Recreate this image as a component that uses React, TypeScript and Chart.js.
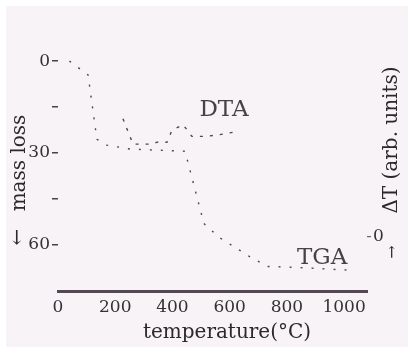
import { useEffect, useRef } from "react";
import { Chart, registerables } from "chart.js";

Chart.register(...registerables);

// ---- data ----
const tgaTemp = [40, 105, 136, 171, 252, 444, 510, 563, 633, 682, 734, 835, 1038];
const tgaMassLoss = [0, 4.5, 25.5, 27.4, 28.7, 29.4, 53.0, 57.5, 61.6, 64.5, 67.0, 67.3, 68.3];

const dtaTemp = [227, 262, 322, 357, 381, 398, 437, 468, 514, 566, 629];
const dtaDeltaT = [25.9, 20.3, 20.3, 20.9, 20.7, 23.3, 24.6, 22.0, 22.0, 22.4, 23.1];

const tempTicks = [0, 200, 400, 600, 800, 1000];
const tempTickLabels = ["0", "200", "400", "600", "800", "1000"];
const massTicks = [0, 15, 30, 45, 60];
const massTickLabels = ["0", "", "30", "", "60"];
const dtTicks = [0];
const dtTickLabels = ["0"];

const xTitle = "temperature(°C)";
const yTitle = "mass loss";
const y2Title = "ΔT (arb. units)";
const dtaLabel = "DTA";
const tgaLabel = "TGA";

const FONT = '"DejaVu Serif", "Liberation Serif", serif';

export default function App() {
  const ref = useRef<HTMLCanvasElement>(null);

  useEffect(() => {
    if (!ref.current) return;

    const bg = {
      id: "bg",
      beforeDraw(c: any) {
        const ctx = c.ctx;
        ctx.save();
        ctx.fillStyle = "#f8f3f7";
        ctx.fillRect(0, 0, c.width, c.height);
        ctx.restore();
      },
    };

    const texts = {
      id: "texts",
      afterDraw(c: any) {
        const ctx = c.ctx;
        const x = c.scales.x;
        const y = c.scales.y;
        const y2 = c.scales.y2;
        ctx.save();
        ctx.fillStyle = "#2a2a2a";
        ctx.textAlign = "center";
        ctx.textBaseline = "middle";
        ctx.font = `20px ${FONT}`;
        ctx.fillText(xTitle, 221, 327);

        const rot = (t: string, px: number, py: number) => {
          ctx.save();
          ctx.translate(px, py);
          ctx.rotate(-Math.PI / 2);
          ctx.fillText(t, 0, 0);
          ctx.restore();
        };
        rot(yTitle, 13.5, 157);
        rot("←", 12, 231);
        rot(y2Title, 386, 134);
        ctx.font = `16px ${FONT}`;
        rot("→", 387, 246);

        ctx.fillStyle = "#444";
        ctx.font = `23px ${FONT}`;
        ctx.fillText(dtaLabel, x.getPixelForValue(580), y2.getPixelForValue(27.7));
        ctx.fillText(tgaLabel, x.getPixelForValue(923), y.getPixelForValue(64.3));
        ctx.restore();
      },
    };

    const tickFont = { family: FONT, size: 17 };

    const chart = new Chart(ref.current, {
      type: "line",
      data: {
        datasets: [
          {
            label: "TGA",
            data: tgaTemp.map((t, i) => ({ x: t, y: tgaMassLoss[i] })),
            yAxisID: "y",
            borderColor: "#4a4a4a",
            borderWidth: 1.4,
            borderDash: [2, 9],
            pointRadius: 0,
            tension: 0,
            fill: false,
          },
          {
            label: "DTA",
            data: dtaTemp.map((t, i) => ({ x: t, y: dtaDeltaT[i] })),
            yAxisID: "y2",
            borderColor: "#4a4a4a",
            borderWidth: 1.4,
            borderDash: [3, 7],
            pointRadius: 0,
            tension: 0,
            fill: false,
          },
        ],
      },
      options: {
        responsive: false,
        animation: false,
        devicePixelRatio: 1,
        layout: { padding: { top: 6, left: 0, right: 0, bottom: 0 } },
        plugins: { legend: { display: false }, tooltip: { enabled: false } },
        scales: {
          x: {
            type: "linear",
            min: 0,
            max: 1080,
            afterBuildTicks: (s: any) => {
              s.ticks = tempTicks.map((v) => ({ value: v }));
            },
            ticks: {
              callback: (v: any) => {
                const i = tempTicks.indexOf(Number(v));
                return i >= 0 ? tempTickLabels[i] : "";
              },
              font: tickFont,
              color: "#333",
              maxRotation: 0,
              autoSkip: false,
              padding: 6,
            },
            grid: { display: false, drawTicks: false },
            border: { display: true, color: "#554855", width: 3 },
            afterFit: (s: any) => {
              s.height = 56;
            },
          },
          y: {
            type: "linear",
            position: "left",
            reverse: true,
            min: -14,
            max: 75,
            afterBuildTicks: (s: any) => {
              s.ticks = massTicks.map((v) => ({ value: v }));
            },
            ticks: {
              callback: (v: any) => {
                const i = massTicks.indexOf(Number(v));
                return i >= 0 ? massTickLabels[i] : "";
              },
              font: tickFont,
              color: "#333",
              padding: 2,
            },
            grid: { drawOnChartArea: false, drawTicks: true, tickLength: 6, color: "#444", lineWidth: 1.5 },
            border: { display: false },
            afterFit: (s: any) => {
              s.width = 52;
            },
          },
          y2: {
            type: "linear",
            position: "right",
            min: -12,
            max: 48,
            afterBuildTicks: (s: any) => {
              s.ticks = dtTicks.map((v) => ({ value: v }));
            },
            ticks: {
              callback: (v: any) => {
                const i = dtTicks.indexOf(Number(v));
                return i >= 0 ? dtTickLabels[i] : "";
              },
              font: tickFont,
              color: "#333",
              padding: 2,
            },
            grid: { drawOnChartArea: false, drawTicks: true, tickLength: 4, color: "#666", lineWidth: 1.2 },
            border: { display: false },
            afterFit: (s: any) => {
              s.width = 41;
            },
          },
        },
      },
      plugins: [bg, texts],
    } as any);

    return () => chart.destroy();
  }, []);

  return (
    <div style={{ position: "absolute", left: 6, top: 6 }}>
      <canvas ref={ref} width={402} height={341} style={{ display: "block", width: 402, height: 341 }} />
    </div>
  );
}
